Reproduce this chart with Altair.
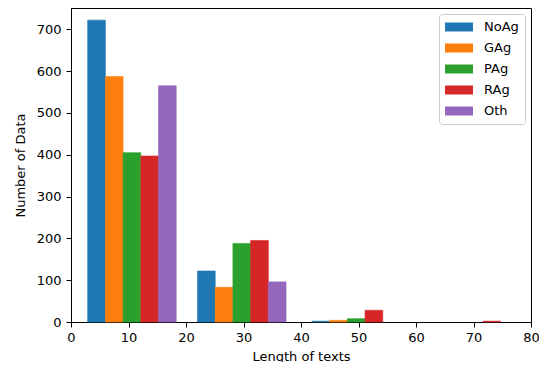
import altair as alt
import pandas as pd

# Data
series = ["NoAg", "GAg", "PAg", "RAg", "Oth"]
colors = ["#1f77b4", "#ff7f0e", "#2ca02c", "#d62728", "#9467bd"]
group_starts = [2.9, 22.0, 41.9, 62.4]   # left edge of each bin's bar group
bar_width = 3.08
noag = [722, 122, 2, 0]
gag = [587, 83, 4, 0]
pag = [405, 188, 8, 0]
rag = [397, 195, 28, 2]
oth = [565, 96, 0, 0]
x_ticks = [0, 10, 20, 30, 40, 50, 60, 70, 80]
y_ticks = [0, 100, 200, 300, 400, 500, 600, 700]

counts = {"NoAg": noag, "GAg": gag, "PAg": pag, "RAg": rag, "Oth": oth}
rows = []
for si, s in enumerate(series):
    for gi, g in enumerate(group_starts):
        x0 = g + si * bar_width
        rows.append({"series": s, "x": x0, "x2": x0 + bar_width, "count": counts[s][gi]})
df = pd.DataFrame(rows)

FONT = "DejaVu Sans"
cscale = alt.Scale(domain=series, range=colors)

chart = alt.Chart(df).transform_filter(
    alt.datum["count"] > 0
).mark_rect(strokeWidth=0.6).encode(
    x=alt.X("x:Q", scale=alt.Scale(domain=[0, 80], nice=False, zero=False),
            axis=alt.Axis(values=x_ticks, title="Length of texts", format="d",
                          labelFlush=False, labelPadding=4, titlePadding=6)),
    x2="x2:Q",
    y=alt.Y("count:Q", scale=alt.Scale(domain=[0, 751], nice=False),
            axis=alt.Axis(values=y_ticks, title="Number of Data", format="d",
                          labelFlush=False, labelPadding=5, titlePadding=9)),
    y2=alt.datum(0),
    stroke=alt.Stroke("series:N", scale=cscale, legend=None),
    color=alt.Color("series:N", scale=cscale,
                    legend=alt.Legend(title=None, orient="none", legendX=368, legendY=6,
                                      symbolType="M-2,-0.64H2V0.64H-2Z", symbolSize=196,
                                      symbolStrokeWidth=0, symbolOffset=7,
                                      labelOffset=18, rowPadding=7,
                                      padding=6, strokeColor="#cccccc", cornerRadius=3,
                                      fillColor="white", labelFontSize=13, labelFont=FONT,
                                      labelColor="black")),
).properties(
    width=460, height=314,
    autosize=alt.AutoSizeParams(type="none"),
    padding={"left": 63, "top": 0, "right": 8, "bottom": 40},
).configure_view(
    stroke="black", strokeWidth=1
).configure_axis(
    grid=False, domainColor="black", tickColor="black", tickSize=5,
    labelFont=FONT, labelFontSize=13, labelColor="black",
    titleFont=FONT, titleFontSize=13, titleColor="black", titleFontWeight="normal",
)

chart.save("out.html", embed_options={"renderer": "svg", "actions": False})
